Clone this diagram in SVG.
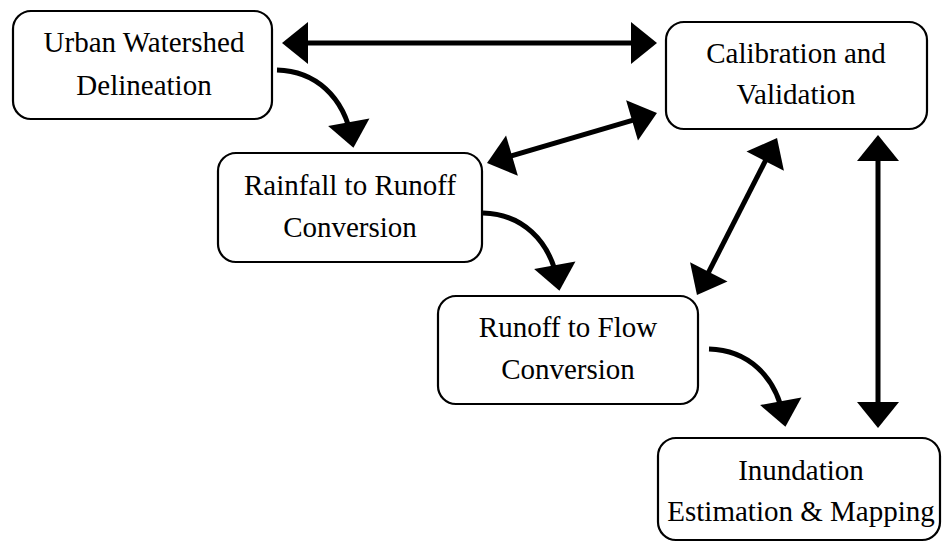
<svg xmlns="http://www.w3.org/2000/svg" width="942" height="543" viewBox="0 0 942 543">
  <style>
    .box { fill: #fff; stroke: #000; stroke-width: 2.2; }
    .lbl { font-family: "Liberation Serif", "Times New Roman", serif; font-size: 29px; fill: #000; text-anchor: middle; }
    .link { fill: none; stroke: #000; stroke-width: 5; }
  </style>
  <defs>
    <marker id="head" markerUnits="userSpaceOnUse" markerWidth="28" markerHeight="44" refX="18" refY="21" orient="auto-start-reverse" overflow="visible">
      <path d="M0,0 L26,21 L0,42 Z" fill="#000"/>
    </marker>
  </defs>

  <g id="node-delineation">
    <rect class="box" x="13" y="11" width="259" height="108" rx="18"/>
    <text class="lbl" x="144" y="52">Urban Watershed</text>
    <text class="lbl" x="144" y="95">Delineation</text>
  </g>
  <g id="node-calibration">
    <rect class="box" x="666" y="22" width="261" height="107" rx="18"/>
    <text class="lbl" x="796" y="63">Calibration and</text>
    <text class="lbl" x="796" y="104">Validation</text>
  </g>
  <g id="node-rainfall">
    <rect class="box" x="218" y="153" width="264" height="109" rx="18"/>
    <text class="lbl" x="350" y="195">Rainfall to Runoff</text>
    <text class="lbl" x="350" y="237">Conversion</text>
  </g>
  <g id="node-flow">
    <rect class="box" x="438" y="296" width="260" height="108" rx="18"/>
    <text class="lbl" x="568" y="337">Runoff to Flow</text>
    <text class="lbl" x="568" y="379">Conversion</text>
  </g>
  <g id="node-inundation">
    <rect class="box" x="658" y="438" width="282" height="102" rx="18"/>
    <text class="lbl" x="801" y="480">Inundation</text>
    <text class="lbl" x="801" y="521">Estimation &amp; Mapping</text>
  </g>

  <g id="connectors">
    <!-- feedback links to calibration -->
    <path class="link" d="M290,43 L649,43" marker-start="url(#head)" marker-end="url(#head)"/>
    <path class="link" d="M494.7,160.7 L649.3,115.3" marker-start="url(#head)" marker-end="url(#head)"/>
    <path class="link" d="M700.6,287.9 L773.4,145.1" marker-start="url(#head)" marker-end="url(#head)"/>
    <path class="link" d="M878,143 L878,420" marker-start="url(#head)" marker-end="url(#head)"/>
    <!-- workflow steps -->
    <path class="link" d="M277,70 C315,71 344,96 352,140" marker-end="url(#head)"/>
    <path class="link" d="M483,213 C521,214 550,239 558,283" marker-end="url(#head)"/>
    <path class="link" d="M709,349 C747,350 776,375 784,419" marker-end="url(#head)"/>
  </g>
</svg>
